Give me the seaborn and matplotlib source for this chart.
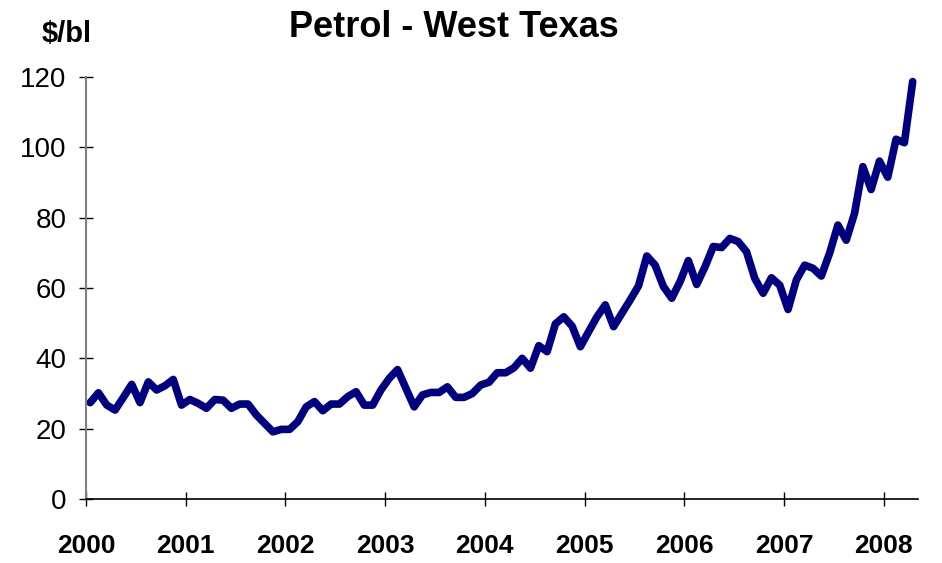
import numpy as np
import pandas as pd
import matplotlib
matplotlib.use("Agg")
import matplotlib.pyplot as plt
import seaborn as sns

# Monthly WTI price ($/bl), Jan 2000 .. Apr 2008
price_2000 = [27.4, 30.2, 26.7, 25.3, 28.9, 32.6, 27.4, 33.3, 31.0, 32.2, 34.0, 26.7]
price_2001 = [28.3, 27.2, 25.8, 28.3, 28.1, 25.8, 27.0, 27.0, 23.9, 21.5, 19.1, 19.8]
price_2002 = [19.8, 22.0, 26.2, 27.7, 25.1, 27.0, 27.0, 29.1, 30.5, 26.7, 26.7, 31.0]
price_2003 = [34.3, 36.8, 31.5, 26.2, 29.6, 30.3, 30.3, 31.9, 28.9, 28.9, 30.0, 32.4]
price_2004 = [33.2, 35.9, 35.9, 37.3, 40.0, 37.2, 43.6, 41.9, 49.8, 51.8, 49.2, 43.3]
price_2005 = [47.6, 51.8, 55.2, 49.0, 52.8, 56.6, 60.6, 69.1, 66.5, 60.4, 57.1, 61.8]
price_2006 = [67.8, 61.0, 66.0, 71.8, 71.5, 74.1, 73.2, 70.3, 62.7, 58.5, 62.9, 60.8]
price_2007 = [53.9, 62.3, 66.5, 65.6, 63.4, 69.9, 77.9, 73.6, 81.2, 94.5, 88.0, 96.1]
price_2008 = [91.5, 102.3, 101.3, 118.7]

year_ticks = [2000, 2001, 2002, 2003, 2004, 2005, 2006, 2007, 2008]
y_ticks = [0, 20, 40, 60, 80, 100, 120]

prices = (price_2000 + price_2001 + price_2002 + price_2003 + price_2004 +
          price_2005 + price_2006 + price_2007 + price_2008)
month_index = np.arange(len(prices))
df = pd.DataFrame({"time": 2000 + (month_index + 0.5) / 12.0, "price": prices})

sns.set_theme(style="white")
plt.rcParams["font.family"] = ["Liberation Sans", "DejaVu Sans"]
plt.rcParams["text.color"] = "black"
plt.rcParams["xtick.color"] = "black"
plt.rcParams["ytick.color"] = "black"
plt.rcParams["xtick.labelcolor"] = "black"
plt.rcParams["ytick.labelcolor"] = "black"

fig = plt.figure(figsize=(9.42, 5.63), dpi=100)
ax = fig.add_axes([86 / 942, 1 - 499 / 563, (918 - 86) / 942, (499 - 77) / 563])

sns.lineplot(data=df, x="time", y="price", ax=ax, color="#000080",
             linewidth=5.5, solid_capstyle="round", solid_joinstyle="round",
             clip_on=False)

ax.set_xlim(2000, 2008.345)
ax.set_ylim(0, 120)
ax.set_xticks(year_ticks)
ax.set_xticklabels([str(y) for y in year_ticks], fontsize=19, fontweight="bold",
                   color="black")
ax.set_yticks(y_ticks)
ax.set_yticklabels([str(v) for v in y_ticks], fontsize=20, color="black")
ax.set_xlabel("")
ax.set_ylabel("")

for s in ["top", "right"]:
    ax.spines[s].set_visible(False)
ax.spines["left"].set_color("#808080")
ax.spines["left"].set_linewidth(1.5)
ax.spines["bottom"].set_color("#000000")
ax.spines["bottom"].set_linewidth(1.2)

ax.tick_params(axis="both", which="major", direction="inout", length=10,
               width=1.0, color="black", left=True, bottom=True)
ax.tick_params(axis="x", pad=20)
ax.tick_params(axis="y", pad=9)

fig.text(0.4814, 1 - 37 / 563, "Petrol - West Texas", ha="center", va="baseline",
         fontsize=26, fontweight="bold", color="black")
fig.text(42 / 942, 1 - 42 / 563, "$/bl", ha="left", va="baseline",
         fontsize=21, fontweight="bold", color="black")

fig.savefig("out.png", dpi=100)
